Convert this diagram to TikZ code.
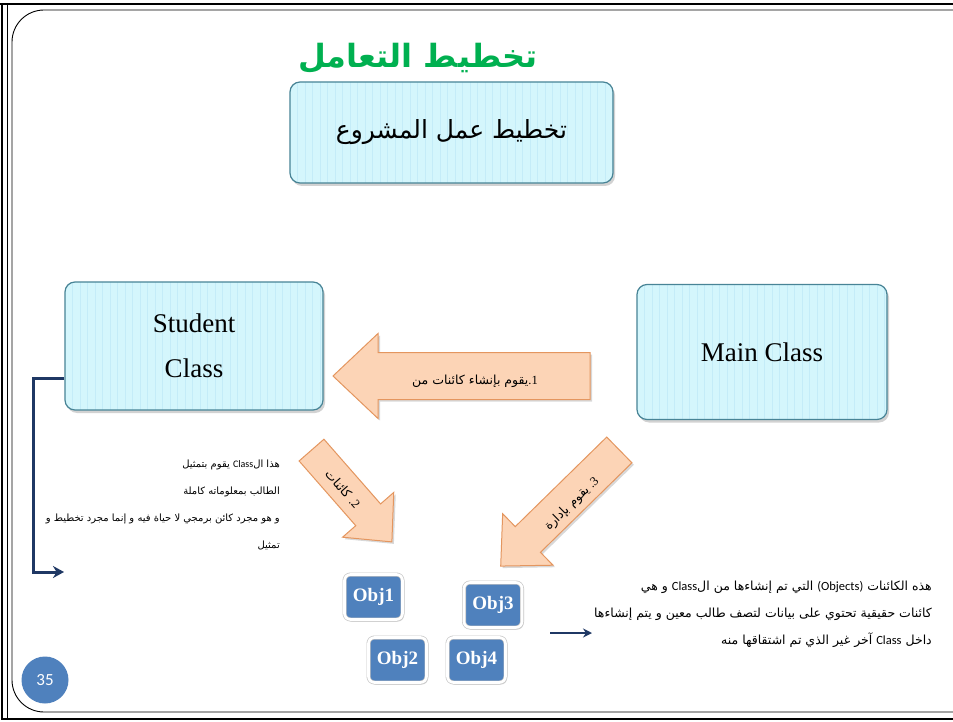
\documentclass[tikz,border=0pt]{standalone}
\usepackage{fontspec}
\setmainfont{Liberation Serif}
\newfontfamily\ar[Script=Arabic]{DejaVu Sans}
\newfontfamily\lat{Carlito}
\TeXXeTstate=1
\usetikzlibrary{arrows.meta,shadows}
\definecolor{boxfill}{RGB}{212,246,252}
\definecolor{boxstripe}{RGB}{196,236,248}
\definecolor{boxedge}{RGB}{72,132,150}
\definecolor{peach}{RGB}{252,212,182}
\definecolor{peachedge}{RGB}{228,150,95}
\definecolor{objblue}{RGB}{79,129,189}
\definecolor{objedge}{RGB}{52,86,130}
\definecolor{navy}{RGB}{31,56,100}
\definecolor{titlegreen}{RGB}{0,176,80}
\tikzset{
  classbox/.style={rectangle, rounded corners=10pt, fill=boxfill, draw=boxedge, line width=1.2pt,
    align=center, drop shadow={shadow xshift=2pt, shadow yshift=-3pt, opacity=0.35, fill=gray},
    path picture={\foreach \i in {1,...,45}{\draw[boxstripe, line width=0.8pt]
      ([xshift=\i*7.5pt]path picture bounding box.south west) -- ([xshift=\i*7.5pt]path picture bounding box.north west);}}},
  objbox/.style={rectangle, rounded corners=6pt, fill=objblue, draw=gray!45, double=white,
    double distance=2.6pt, line width=0.7pt,
    minimum width=58pt, minimum height=45pt, text=white, font=\bfseries\fontsize{19}{21}\selectfont,
    drop shadow={shadow xshift=1.5pt, shadow yshift=-2pt, opacity=0.3, fill=gray}},
  blockarrow/.style={fill=peach, draw=peachedge, line width=1pt,
    drop shadow={shadow xshift=2pt, shadow yshift=-2pt, opacity=0.3, fill=gray}},
  navyline/.style={draw=navy, line width=3pt, -{Stealth[length=11pt,width=12pt]}},
  arrowtext/.style={font=\ar\fontsize{12.5}{15}\selectfont, inner sep=0pt},
  notetext/.style={font=\ar\fontsize{10}{27}\selectfont, inner sep=0pt, align=right},
}
\newcommand\blockarrow[8]{%
  \begin{scope}[shift={(#2,#3)}, rotate=#4]
    \path[blockarrow] (-#5/2,-#6/2) -- (#5/2-#8,-#6/2) -- (#5/2-#8,-#7/2) -- (#5/2,0)
      -- (#5/2-#8,#7/2) -- (#5/2-#8,#6/2) -- (-#5/2,#6/2) -- cycle;
    \coordinate (#1) at (0,0);
  \end{scope}}
\begin{document}
\begin{tikzpicture}[x=1pt,y=-1pt]
\clip (0,0) rectangle (953,722);
\fill[white] (0,0) rectangle (953,722);
% frame
\draw[line width=2.5pt] (0,4) -- (953,4);
\draw[line width=2.5pt] (2,4) -- (2,719) -- (953,719);
\draw[line width=0.8pt] (7.5,4) -- (7.5,719);
\draw[line width=0.9pt, rounded corners=32pt] (12,10) rectangle (985,712);

% title
\node[text=titlegreen, font=\ar\bfseries\fontsize{32}{36}\selectfont] (title) at (418,58) {\beginR تخطيط التعامل\endR};

% boxes
\node[classbox, minimum width=323pt, minimum height=101pt, font=\ar\fontsize{25}{28}\selectfont] (top) at (451.5,132.5) {\beginR تخطيط عمل المشروع\endR};
\node[classbox, minimum width=258pt, minimum height=128pt, font=\fontsize{27}{45}\selectfont] (student) at (194,346) {Student\\Class};
\node[classbox, minimum width=250pt, minimum height=135pt, font=\fontsize{27}{30}\selectfont] (main) at (762,352) {Main Class};

% block arrows
\blockarrow{a1}{461.5}{376}{180}{257}{47}{85}{45}
\node[arrowtext] (a1t) at (475,381) {\beginR يقوم بإنشاء كائنات من\endR{\rmfamily .1}};
\blockarrow{a2}{351.7}{496}{-48.8}{122}{33}{68}{36}
\node[arrowtext, rotate=-48.8] (a2t) at (343,489) {\beginR كائنات\endR\ {\rmfamily .2}};
\blockarrow{a3}{560}{508}{224.4}{166}{36}{72}{38}
\node[arrowtext, rotate=44.4] (a3t) at (572,504) {\beginR يقوم بإدارة\endR\ {\rmfamily .3}};

% objects
\node[objbox] (o1) at (373.5,597) {Obj1};
\node[objbox] (o3) at (493,605) {Obj3};
\node[objbox] (o2) at (397.5,660) {Obj2};
\node[objbox] (o4) at (476.5,660) {Obj4};

% left note (right-to-left paragraph, written in visual order)
\node[notetext, anchor=north east] (lnote) at (280,460) {%
\beginR يقوم بتمثيل\endR\ {\lat Class}\beginR هذا ال\endR\\
\beginR الطالب بمعلوماته كاملة\endR\\
\beginR و هو مجرد كائن برمجي لا حياة فيه و إنما مجرد تخطيط و\endR\\
\beginR تمثيل\endR};
\coordinate (lend) at (64,572);
\draw[navyline] (student.west) ++(0,32) -| (33,572) -- (lend);

% right note (right-to-left paragraph, written in visual order)
\node[notetext, font=\ar\fontsize{12.5}{27}\selectfont, anchor=north east] (rnote) at (932,581) {%
\beginR و هي\endR\ {\lat Class}\beginR التي تم إنشاءها من ال\endR\ {\lat (Objects)}\ \beginR هذه الكائنات\endR\\
\beginR كائنات حقيقية تحتوي على بيانات لتصف طالب معين و يتم إنشاءها\endR\\
\beginR آخر غير الذي تم اشتقاقها منه\endR\ {\lat Class}\ \beginR داخل\endR};
\coordinate (rstart) at (550,633);
\coordinate (rend) at (592,633);
\draw[navyline, line width=2pt, -{Stealth[length=9pt,width=9pt]}] (rstart) -- (rend);

% page number
\node[circle, fill=objblue, minimum size=47pt, text=white, font=\lat\fontsize{17}{20}\selectfont] (page) at (45,680) {35};
\end{tikzpicture}
\end{document}
